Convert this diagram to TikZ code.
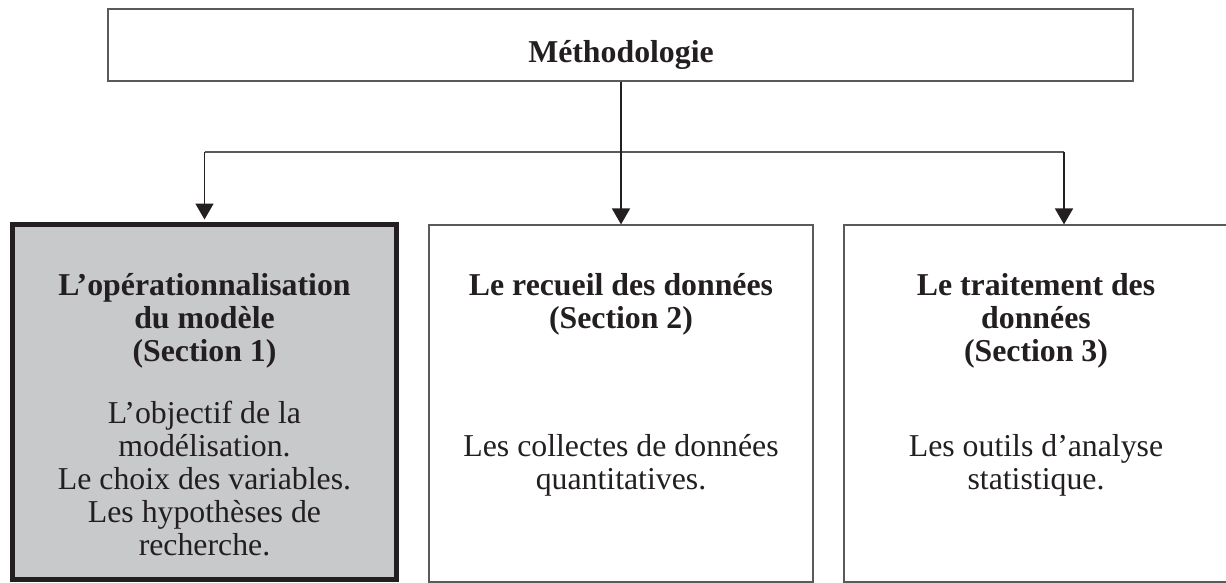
\documentclass[tikz,border=0pt]{standalone}
\usepackage{fontspec}
\setmainfont{Liberation Serif}
\usetikzlibrary{arrows.meta}
\definecolor{ink}{HTML}{231F20}
\definecolor{boxgray}{HTML}{C8C9CB}
\definecolor{thinline}{HTML}{5A5A5A}
\newcommand{\mytxt}[1]{\fontsize{15.9pt}{16.5pt}\selectfont\setlength{\tabcolsep}{0pt}\begin{tabular}[t]{c}#1\end{tabular}}
\begin{document}
\begin{tikzpicture}[x=0.5pt,y=-0.5pt,
  thinbox/.style={draw=thinline,line width=0.6pt,fill=white,rectangle,inner sep=0pt,minimum width=192pt,minimum height=178.5pt},
  thickbox/.style={draw=ink,line width=2.5pt,fill=boxgray,rectangle,inner sep=0pt,minimum width=192pt,minimum height=177.5pt},
  label/.style={anchor=base,inner sep=0pt,text=ink},
  arr/.style={draw=ink,line width=0.9pt,-{Triangle[width=9pt,length=8pt]}},
  hline/.style={draw=thinline,line width=0.6pt}]
\useasboundingbox (0,0) rectangle (1226,583);
% boxes
\node[draw=thinline,line width=0.6pt,rectangle,inner sep=0pt,minimum width=512.5pt,minimum height=36pt] (top) at (620.5,45) {};
\node[thickbox] (left) at (204.5,402) {};
\node[thinbox] (mid) at (621,403.5) {};
\node[thinbox] (right) at (1036,403.5) {};
% texts
\node[label] (toptxt) at (621,63) {\mytxt{\textbf{Méthodologie}}};
\node[label] (lt) at (204.5,295) {\mytxt{\textbf{L’opérationnalisation}\\\textbf{du modèle}\\\textbf{(Section 1)}}};
\node[label] (lb) at (204.5,423) {\mytxt{L’objectif de la\\modélisation.\\Le choix des variables.\\Les hypothèses de\\recherche.}};
\node[label] (mt) at (621,295) {\mytxt{\textbf{Le recueil des données}\\\textbf{(Section 2)}}};
\node[label] (mb) at (621,456) {\mytxt{Les collectes de données\\quantitatives.}};
\node[label] (rt) at (1036,295) {\mytxt{\textbf{Le traitement des}\\\textbf{données}\\\textbf{(Section 3)}}};
\node[label] (rb) at (1036,456) {\mytxt{Les outils d’analyse\\statistique.}};
% connectors
\coordinate (lj) at (204.5,152);
\coordinate (rj) at (1064,152);
\draw[hline] (lj) -- (rj);
\draw[arr] (top.south -| mid.north) -- (mid.north);
\draw[arr,shorten >=1.25pt] (lj) -- (left.north);
\draw[arr] (rj) -- (rj |- right.north);
\end{tikzpicture}
\end{document}
